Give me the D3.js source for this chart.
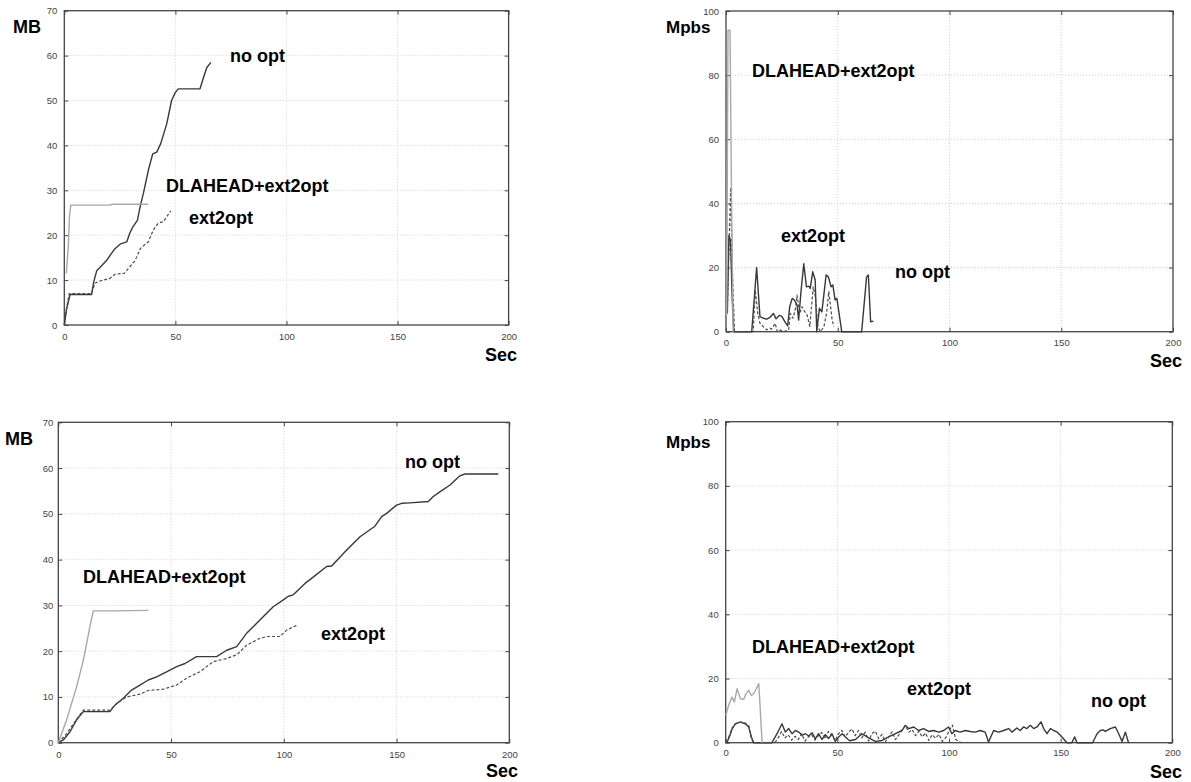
<!DOCTYPE html>
<html><head><meta charset="utf-8">
<script src="https://cdn.jsdelivr.net/npm/d3@7"></script>
<style>
html,body{margin:0;padding:0;background:#fff;}
svg{display:block;}
.tick text{font-family:"Liberation Sans",Arial,sans-serif;font-size:9.5px;fill:#444;}
.lbl{font-family:"Liberation Sans",Arial,sans-serif;font-weight:bold;font-size:18px;fill:#000;}
</style></head>
<body>
<svg id="c" width="1191" height="782"></svg>
<script>
// ---------- tick labels ----------
const secTicks = [0, 50, 100, 150, 200];
const mbTicks = [0, 10, 20, 30, 40, 50, 60, 70];
const mbpsTicks = [0, 20, 40, 60, 80, 100];
const seriesNames = ["no opt", "ext2opt", "DLAHEAD+ext2opt"];

// ---------- top-left: MB vs Sec ----------
const p1NoOpt = [[0,0],[1,3.5],[2.6,6.8],[12.3,6.8],[13.2,9.5],[14.6,12.1],[17,13.3],[19.1,14.4],[21,15.8],[22.8,17],[25.1,18],[28.1,18.5],[29.5,20.5],[30.8,21.8],[32.9,23.3],[34.2,26.5],[35.6,29.3],[37.8,34.4],[39.8,38.1],[41.6,38.5],[43.4,40.4],[46.1,44.8],[48.3,50],[50,51.8],[51.3,52.6],[61.1,52.6],[62.6,55],[64.1,57.3],[66,58.5]];
const p1Ext2 = [[0,0],[1,3.8],[2.2,7],[12.3,7],[13.8,9.3],[15.5,9.7],[17.6,10],[20.6,10.4],[22.8,11.3],[26.9,11.5],[29.6,13],[31.9,14.4],[34.2,17],[36,17.8],[37.8,18.5],[40,21.1],[42.3,22.7],[44.6,23],[46.1,24.1],[47.9,25.4]];
const p1Dla = [[0.9,11.5],[1.8,17.4],[2.3,24],[2.9,26.7],[20,26.7],[22,26.9],[37.8,26.9]];

// ---------- top-right: Mpbs vs Sec ----------
const p2NoOpt = [[0.6,5.7],[1.3,30],[2,28.5],[2.8,10],[3.5,0],[11.5,0],[13.7,20],[15.2,4.7],[16.7,4.2],[18.2,3.9],[19.7,4.5],[21.2,5.7],[22.4,4],[23.9,5.1],[25,4.8],[26.5,2.9],[27.6,1.8],[28.5,7.8],[29.6,10.4],[30.6,9.9],[31.8,8.3],[32.5,3.6],[33.6,12.9],[34.8,21.2],[36,14],[37,14.2],[37.7,13.5],[38.8,18.7],[39.9,16.1],[40.6,0],[41.8,7.3],[42.9,6.2],[44.8,17.7],[45.8,17.1],[47,14],[47.8,14.6],[48.8,9.9],[49.6,10.4],[51.8,0],[60.7,0],[62.9,17.1],[63.7,17.7],[64.7,3.1],[65.9,3.3]];
const p2Ext2 = [[0.6,8],[1.5,30],[2.1,45],[2.8,20],[3.8,0],[12.2,0],[13.1,13],[14.2,5.7],[15.2,2.6],[16.7,1.6],[18.2,0.6],[19.7,1.1],[20.4,0.8],[22,2.6],[23,0],[24.3,0.5],[25.8,0],[28,0.5],[28.8,5.7],[30,4.2],[31.1,7.3],[31.8,11.4],[33,5.7],[34,7.8],[34.8,6.7],[36.3,5.2],[37.5,1.6],[39,14],[40,10.9],[41.1,1.6],[42.3,0],[43.8,1.6],[45,5.7],[46,12.5],[46.8,7.8],[47.5,3.6],[48.3,1.6]];
const p2Dla = [[0.3,5],[0.9,94],[1.8,94],[2.5,40],[3.2,0]];

// ---------- bottom-left: MB vs Sec ----------
const p3NoOpt = [[0,0],[2.2,0.6],[5.2,2.4],[8.1,5],[11.1,6.8],[22.9,6.8],[25.1,8.2],[28.8,9.7],[32.5,11.5],[36.2,12.6],[39.9,13.7],[43.6,14.4],[48,15.5],[52.5,16.6],[56.2,17.3],[61.3,18.8],[70.2,18.8],[74.7,20.2],[79.1,21],[83.5,23.9],[89.4,26.8],[95.3,29.7],[99.8,31.2],[102,32],[104.2,32.3],[109.4,34.8],[112.3,35.9],[119,38.5],[121.2,38.6],[127.9,42.1],[133.8,45],[140.4,47.3],[143.4,49.4],[145.6,50.1],[150,51.9],[152.3,52.3],[155.9,52.4],[164.1,52.7],[166.3,53.8],[169.2,54.8],[173.7,56.3],[178.1,58.3],[180.3,58.7],[195.1,58.7]];
const p3Ext2 = [[0,0],[3.7,2],[8.1,5.1],[11.1,7.1],[22.9,7.1],[25.9,8.6],[30.3,10],[36.2,10.6],[39.9,11.4],[46.6,11.7],[52.5,12.6],[56.9,14.1],[62.8,15.5],[68.7,17.7],[74.7,18.4],[79.1,19.2],[83.5,21.3],[89.4,22.8],[92.4,23.2],[98.3,23.2],[101.3,24.6],[104.2,25.3],[105.7,25.6]];
const p3Dla = [[0,0],[3.7,5],[8.1,12.2],[11.1,18],[14,25.3],[15.5,28.8],[25,28.8],[40,28.9]];

// ---------- bottom-right: Mpbs vs Sec ----------
const p4NoOpt = [[0.5,0],[1.6,1.8],[3,4.5],[4.3,5.9],[6.6,6.4],[8.8,5.9],[10.3,4.9],[11.5,1.8],[12.5,0],[20.7,0],[23,2.8],[25.2,5.9],[26.7,3.3],[28.2,4.4],[29.7,2.8],[31.2,3.8],[32.7,3.3],[34.2,2.3],[35.7,2.8],[37.2,2.1],[38.7,3.1],[40.1,1.2],[41.6,2.8],[43.1,1],[44.6,2.5],[46.1,1.3],[47.6,2.8],[49.1,0.4],[50.6,1.8],[52.1,2.8],[53.6,1.8],[55.5,0.6],[58.1,1],[61,2.8],[64,1.5],[67,0.4],[70,0.7],[73,1.8],[76,2.8],[79,3.8],[80.4,5.4],[81.9,4.4],[84.2,4.9],[86.4,3.8],[88.6,4.4],[90.9,3.5],[93.1,3.8],[95.4,3.3],[97.6,3.8],[99.8,4.9],[101.3,2.8],[102.8,3.8],[105,3.3],[107.3,3.8],[109.5,3.5],[111.8,3.3],[114,3.8],[116.2,3.3],[117.7,0.2],[120,3.8],[122.2,3.3],[124.5,3.8],[126.7,4.4],[128.2,3.3],[130.4,4.6],[131.9,3.8],[133.4,4.9],[134.9,4.4],[136.4,5.4],[137.9,4.4],[139.4,4.9],[141.2,6.5],[142.4,4.4],[143.9,2.8],[145.4,4.4],[146.9,3.8],[148.4,3.3],[150.6,1.8],[152.8,0],[155,0],[156.3,1.8],[157.3,0],[164.3,0],[166.3,2.8],[167.8,3.8],[169.1,4],[170,3.5],[172.2,4.4],[174.5,4.9],[176,2.8],[177.5,0.4],[179,3.3],[180.4,0]];
const p4Ext2 = [[0.5,0],[1.6,2.2],[3,4.8],[4.5,5.9],[6.6,6.4],[8.5,6.2],[10.3,5.4],[11.5,1.2],[12.5,0],[22,0],[23.5,1.5],[25,3.5],[26.5,1.5],[28,2.5],[29.5,0.8],[31,2],[32.5,1],[34,2.8],[35.5,0.5],[37,1.8],[38.5,2.5],[40,0.8],[41.5,2.2],[43,3.2],[44.5,1.2],[46,3.5],[47.5,2.3],[49,0.6],[50.5,2.8],[52,3.8],[53.5,1.8],[55,3.2],[56.5,4.3],[58,2.2],[59.5,3.8],[61,1.5],[62.5,3.3],[64,0.5],[65.5,2.8],[67,3.6],[68.5,1.3],[70,2.6],[71.5,0.3],[73,1.8],[74.5,3.4],[76,1],[77.5,2.4],[79,4],[80.5,5.3],[82,3.3],[83.5,4.1],[85,2.2],[86.5,3.6],[88,1.8],[89.5,3],[91,0.7],[92.5,2.5],[94,1.4],[95.5,2.6],[97,0.4],[98.5,1.5],[100,3.6],[101.5,5.5],[103,1],[104.5,0.3],[105.5,0]];
const p4Dla = [[0,8.5],[1.3,11.6],[2.8,14.2],[3.9,12.7],[5.1,16.8],[5.8,15.3],[6.6,13.7],[8.1,13.5],[9.1,15.3],[10.3,16.3],[11.5,14.7],[12.5,15.3],[13.7,16.8],[14.8,18.4],[15.2,13.7],[16.3,0]];

// ---------- drawing ----------
const svg = d3.select("#c");
const styles = {
  "no opt": {stroke:"#383838", width:1.4, dash:null},
  "ext2opt": {stroke:"#4a4a4a", width:1.2, dash:"3,2"},
  "DLAHEAD+ext2opt": {stroke:"#a8a8a8", width:1.4, dash:null}
};

function panel(cfg) {
  const x = d3.scaleLinear().domain([0, 200]).range([cfg.x0, cfg.x1]);
  const y = d3.scaleLinear().domain([0, cfg.ymax]).range([cfg.yb, cfg.yt]);
  const g = svg.append("g");
  // grid
  g.append("g").selectAll("line.gx").data(cfg.xt.slice(1, -1)).join("line")
    .attr("x1", d => x(d)).attr("x2", d => x(d)).attr("y1", cfg.yt).attr("y2", cfg.yb)
    .attr("stroke", "#c4c4c4").attr("stroke-width", 0.8).attr("stroke-dasharray", "1,2");
  g.append("g").selectAll("line.gy").data(cfg.yTicks.slice(1, -1)).join("line")
    .attr("y1", d => y(d)).attr("y2", d => y(d)).attr("x1", cfg.x0).attr("x2", cfg.x1)
    .attr("stroke", "#c4c4c4").attr("stroke-width", 0.8).attr("stroke-dasharray", "1,2");
  // axes
  g.append("g").attr("transform", `translate(0,${cfg.yb})`)
    .call(d3.axisBottom(x).tickValues(cfg.xt).tickSize(-4).tickPadding(cfg.xpad).tickFormat(d3.format("d")));
  g.append("g").attr("transform", `translate(${cfg.x0},0)`)
    .call(d3.axisLeft(y).tickValues(cfg.yTicks).tickSize(-4).tickPadding(cfg.ypad).tickFormat(d3.format("d")));
  g.append("g").attr("transform", `translate(${cfg.x1},0)`)
    .call(d3.axisRight(y).tickValues(cfg.yTicks).tickSize(-4).tickFormat(""));
  g.append("g").attr("transform", `translate(0,${cfg.yt})`)
    .call(d3.axisTop(x).tickValues(cfg.xt).tickSize(-4).tickFormat(""));
  g.selectAll(".domain").remove();
  g.selectAll(".tick line").attr("stroke", "#444");
  // frame
  g.append("rect").attr("x", cfg.x0).attr("y", cfg.yt).attr("width", cfg.x1 - cfg.x0).attr("height", cfg.yb - cfg.yt)
    .attr("fill", "none").attr("stroke", "#444").attr("stroke-width", 1.3);
  // lines
  const line = d3.line().x(d => x(d[0])).y(d => y(d[1]));
  cfg.series.forEach((s, i) => {
    const st = styles[seriesNames[i]];
    g.append("path").datum(s).attr("d", line).attr("fill", "none")
      .attr("stroke", st.stroke).attr("stroke-width", st.width)
      .attr("stroke-dasharray", st.dash).attr("stroke-linejoin", "round");
  });
  // labels
  cfg.labels.forEach(l => {
    g.append("text").attr("class", "lbl").attr("x", l[1]).attr("y", l[2])
      .attr("text-anchor", l[3] || "start").style("font-size", l[4] || null).text(l[0]);
  });
}

panel({x0:64.3, x1:508.6, yt:10.7, yb:325, ymax:70, xt:secTicks, yTicks:mbTicks, xpad:8, ypad:7,
  series:[p1NoOpt, p1Ext2, p1Dla],
  labels:[["MB",13,33],["Sec",517,361,"end"],[seriesNames[0],230,62],[seriesNames[2],166,192],[seriesNames[1],189,224]]});
panel({x0:726, x1:1173, yt:11, yb:331.7, ymax:100, xt:secTicks, yTicks:mbpsTicks, xpad:8, ypad:7,
  series:[p2NoOpt, p2Ext2, p2Dla],
  labels:[["Mpbs",666,33,"start","17px"],["Sec",1182,367,"end"],[seriesNames[2],752,77],[seriesNames[1],781,242],[seriesNames[0],895,278]]});
panel({x0:58.3, x1:509.3, yt:422.3, yb:742.7, ymax:70, xt:secTicks, yTicks:mbTicks, xpad:9, ypad:5,
  series:[p3NoOpt, p3Ext2, p3Dla],
  labels:[["MB",5,445],["Sec",518,777,"end"],[seriesNames[2],83,583],[seriesNames[1],321,640],[seriesNames[0],405,468]]});
panel({x0:725.7, x1:1172.3, yt:421.7, yb:742.7, ymax:100, xt:secTicks, yTicks:mbpsTicks, xpad:7, ypad:7,
  series:[p4NoOpt, p4Ext2, p4Dla],
  labels:[["Mpbs",666,448,"start","17px"],["Sec",1182,778,"end"],[seriesNames[2],752,653],[seriesNames[1],907,695],[seriesNames[0],1091,707]]});
</script>
</body></html>
